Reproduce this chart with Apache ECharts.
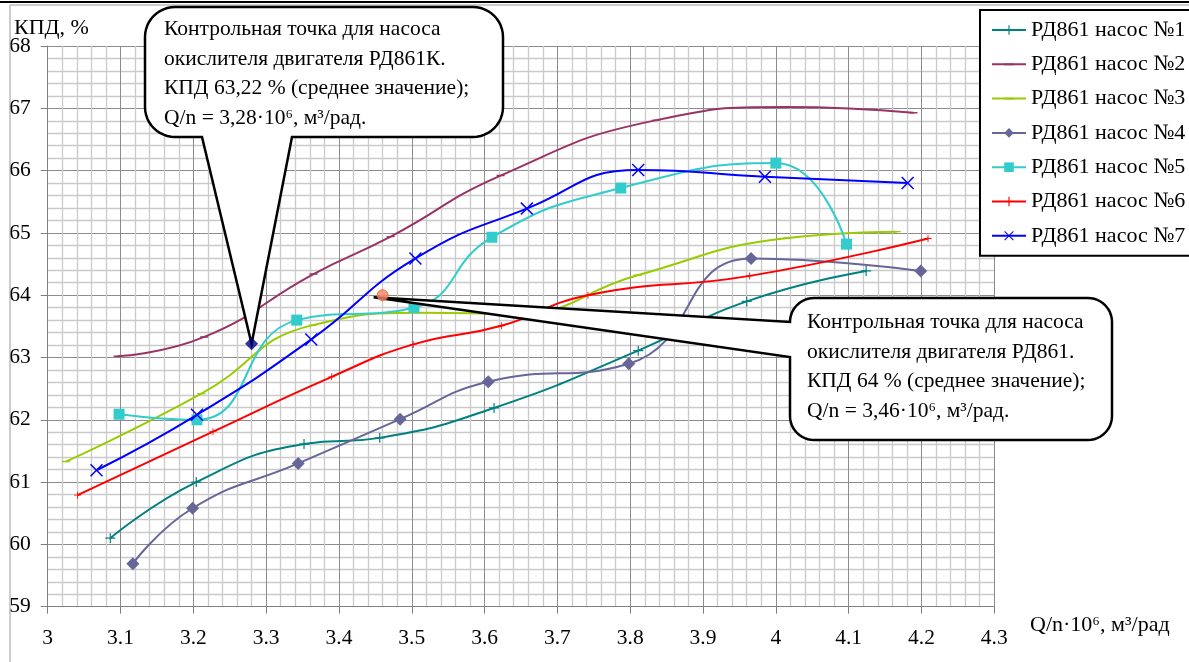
<!DOCTYPE html>
<html>
<head>
<meta charset="utf-8">
<script src="https://cdn.jsdelivr.net/npm/echarts@6/dist/echarts.min.js"></script>
<style>html,body{margin:0;padding:0;background:#fff}#c{width:1189px;height:662px}</style>
</head>
<body>
<div id="c"></div>
<script>
// ---- data ----
const seriesNames = ['РД861 насос №1','РД861 насос №2','РД861 насос №3','РД861 насос №4','РД861 насос №5','РД861 насос №6','РД861 насос №7'];
const s1x = [3.086, 3.204, 3.352, 3.456, 3.613, 3.811, 3.960, 4.124];
const s1y = [60.10, 61.00, 61.61, 61.71, 62.19, 63.11, 63.90, 64.39];
const s2x = [3.096, 3.215, 3.365, 3.471, 3.622, 3.836, 4.012, 4.189];
const s2y = [63.02, 63.33, 64.34, 64.94, 65.92, 66.81, 67.02, 66.93];
const s3x = [3.025, 3.211, 3.364, 3.520, 3.640, 3.810, 4.016, 4.166];
const s3y = [61.33, 62.42, 63.52, 63.72, 63.70, 64.32, 64.92, 65.02];
const s4x = [3.117, 3.199, 3.344, 3.484, 3.605, 3.798, 3.966, 4.199];
const s4y = [59.69, 60.58, 61.30, 62.01, 62.61, 62.90, 64.59, 64.39];
const s5x = [3.098, 3.205, 3.342, 3.503, 3.610, 3.787, 4.000, 4.097];
const s5y = [62.09, 62.00, 63.60, 63.80, 64.93, 65.72, 66.12, 64.82];
const s6x = [3.041, 3.227, 3.390, 3.502, 3.623, 3.742, 3.964, 4.209];
const s6y = [60.79, 61.81, 62.69, 63.21, 63.51, 64.00, 64.31, 64.91];
const s7x = [3.067, 3.205, 3.362, 3.505, 3.658, 3.811, 3.985, 4.181];
const s7y = [61.19, 62.08, 63.29, 64.59, 65.39, 66.01, 65.90, 65.80];
const ctrlK = [3.28, 63.22];   // РД861К control point
const ctrl = [3.46, 64.00];    // РД861 control point
const callout1 = ['Контрольная точка для насоса', 'окислителя двигателя РД861К.', 'КПД 63,22 % (среднее значение);', 'Q/n = 3,28·10⁶, м³/рад.'];
const callout2 = ['Контрольная точка для насоса', 'окислителя двигателя РД861.', 'КПД 64 % (среднее значение);', 'Q/n = 3,46·10⁶, м³/рад.'];
const xName = 'Q/n·10⁶, м³/рад';
const yName = 'КПД, %';

// ---- styles ----
const FONT = '"Liberation Serif", "Times New Roman", serif';
const colors = ['#008080', '#993366', '#99cc00', '#666699', '#33cccc', '#ff0000', '#0000ff'];
const PLUS = 'path://M4.4,0H5.6V4.4H10V5.6H5.6V10H4.4V5.6H0V4.4H4.4Z';
const XMARK = 'path://M0,0.8L0.8,0L5,4.2L9.2,0L10,0.8L5.8,5L10,9.2L9.2,10L5,5.8L0.8,10L0,9.2L4.2,5Z';
const DASH = 'path://M0,0L0.01,0L0,0.01Z M0,4.1H10V5.9H0Z M0,10L0.01,10L0,9.99Z';
const symbols = [PLUS, DASH, DASH, 'diamond', 'rect', PLUS, XMARK];
const sizes = [10, 8, 8, 13, 11, 7, 13];
const xs = [s1x, s2x, s3x, s4x, s5x, s6x, s7x];
const ys = [s1y, s2y, s3y, s4y, s5y, s6y, s7y];

const chart = echarts.init(document.getElementById('c'), null, {renderer: 'canvas'});

const series = seriesNames.map((n, i) => ({
  type: 'line', name: n,
  data: xs[i].map((x, k) => [x, ys[i][k]]),
  smooth: 0.5,
  symbol: symbols[i], symbolSize: sizes[i],
  showAllSymbol: true,
  lineStyle: {color: colors[i], width: 2},
  itemStyle: {color: colors[i]},
  z: 3 + i
}));
series.push({type: 'scatter', name: 'ctrlK', data: [ctrlK], symbol: 'diamond', symbolSize: 13,
  itemStyle: {color: '#000080'}, z: 60});
series.push({type: 'scatter', name: 'ctrl', data: [ctrl], symbol: 'circle', symbolSize: 11,
  itemStyle: {color: '#f7836f', borderColor: '#e46c0a', borderWidth: 1}, z: 60});

const axisCommon = {
  axisLine: {show: true, onZero: false, lineStyle: {color: '#808080', width: 1}},
  axisTick: {show: true, inside: false, length: 7, lineStyle: {color: '#808080'}},
  splitLine: {show: true, lineStyle: {color: '#8c8c8c', width: 1}},
  minorTick: {show: false, splitNumber: 5},
  minorSplitLine: {show: true, lineStyle: {color: '#cacaca', width: 1.3}}
};

chart.setOption({
  animation: false,
  backgroundColor: '#ffffff',
  grid: {left: 47.7, right: 194.7, top: 46, bottom: 55.3},
  xAxis: Object.assign({type: 'value', min: 3, max: 4.3, interval: 0.1,
    axisLabel: {margin: 21, color: '#000', fontSize: 21.5, fontFamily: FONT}}, axisCommon),
  yAxis: Object.assign({type: 'value', min: 59, max: 68, interval: 1,
    axisLabel: {margin: 17, color: '#000', fontSize: 21.5, fontFamily: FONT}}, axisCommon),
  legend: {
    data: seriesNames, orient: 'vertical', left: 980, top: 10,
    backgroundColor: '#fff', borderColor: '#000', borderWidth: 2, borderRadius: 0,
    padding: [9, 40, 9, 11], itemWidth: 34, itemHeight: 12, itemGap: 12.3,
    textStyle: {fontSize: 22, fontFamily: FONT, color: '#000', lineHeight: 22},
    selectedMode: false
  },
  series: series
});

const p1 = chart.convertToPixel({gridIndex: 0}, ctrlK);
const p2 = chart.convertToPixel({gridIndex: 0}, ctrl);

function arc(cx, cy, r, a0, a1, out) {
  const n = 12;
  for (let k = 0; k <= n; k++) {
    const a = (a0 + (a1 - a0) * k / n) * Math.PI / 180;
    out.push([cx + r * Math.cos(a), cy + r * Math.sin(a)]);
  }
}
function bubbleBottom(x0, y0, x1, y1, r, bx0, bx1, tip) {
  const p = [];
  arc(x0 + r, y0 + r, r, 180, 270, p);
  arc(x1 - r, y0 + r, r, 270, 360, p);
  arc(x1 - r, y1 - r, r, 0, 90, p);
  p.push([bx1, y1], tip, [bx0, y1]);
  arc(x0 + r, y1 - r, r, 90, 180, p);
  return p;
}
function bubbleLeft(x0, y0, x1, y1, r, by0, by1, tip) {
  const p = [];
  arc(x0 + r, y0 + r, r, 180, 270, p);
  arc(x1 - r, y0 + r, r, 270, 360, p);
  arc(x1 - r, y1 - r, r, 0, 90, p);
  arc(x0 + r, y1 - r, r, 90, 180, p);
  p.push([x0, by1], tip, [x0, by0]);
  return p;
}

const textStyle = {fontSize: 21.5, fontFamily: FONT, fill: '#000', lineHeight: 29.5, verticalAlign: 'top', align: 'left'};
const nameStyle = {fontSize: 22, fontFamily: FONT, fill: '#000', verticalAlign: 'middle', align: 'left'};

chart.setOption({
  graphic: [
    {type: 'rect', shape: {x: 10, y: 5, width: 1300, height: 800}, style: {fill: 'none', stroke: '#9a9a9a', lineWidth: 1}, z: 1, silent: true},
    {type: 'line', shape: {x1: 0, y1: 2, x2: 1189, y2: 2}, style: {stroke: '#000', lineWidth: 2}, z: 1, silent: true},
    {type: 'text', style: Object.assign({}, nameStyle, {text: yName, x: 14, y: 28}), z: 10},
    {type: 'text', style: Object.assign({}, nameStyle, {text: xName, x: 1030, y: 625}), z: 10},
    {type: 'polygon', shape: {points: bubbleBottom(145, 7, 503, 137, 30, 202, 292, [p1[0], p1[1]])},
      style: {fill: '#fff', stroke: '#000', lineWidth: 2.5, lineJoin: 'miter'}, z: 50},
    {type: 'text', style: Object.assign({}, textStyle, {text: callout1.join('\n'), x: 164, y: 15}), z: 51},
    {type: 'polygon', shape: {points: bubbleLeft(790, 298, 1112, 440, 24, 322, 357, [p2[0] - 9, p2[1] + 2])},
      style: {fill: '#fff', stroke: '#000', lineWidth: 2.5, lineJoin: 'miter'}, z: 50},
    {type: 'text', style: Object.assign({}, textStyle, {text: callout2.join('\n'), x: 807, y: 308}), z: 51}
  ]
});
</script>
</body>
</html>
